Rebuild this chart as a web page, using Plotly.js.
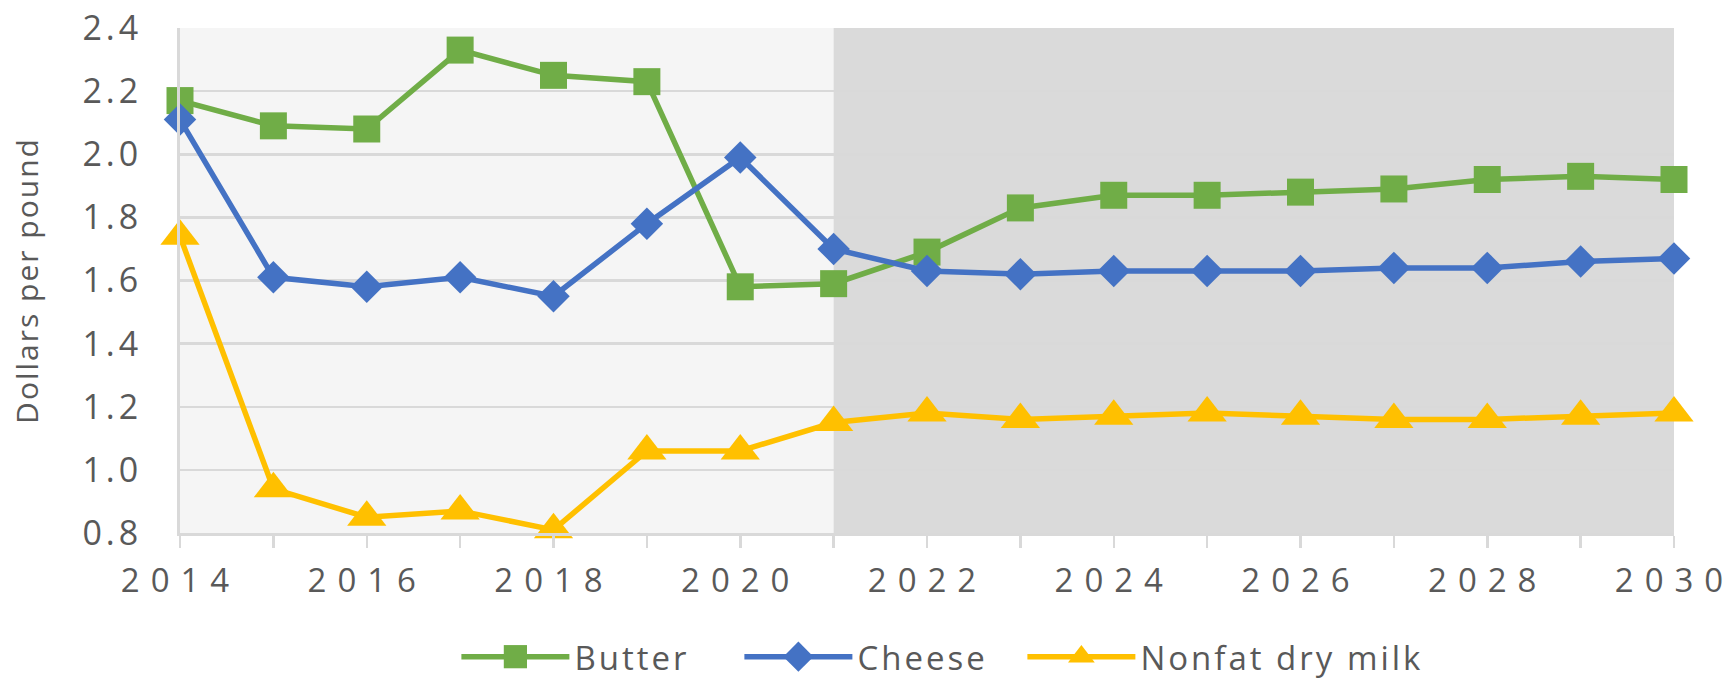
<!DOCTYPE html>
<html>
<head>
<meta charset="utf-8">
<script src="https://cdn.plot.ly/plotly-3.0.1.min.js"></script>
<style>
html,body{margin:0;padding:0;background:#fff;}
#chart{width:1727px;height:681px;}
svg text{letter-spacing:2px;}
.xtick text{letter-spacing:0px !important;}
.ytick text{letter-spacing:4px !important;}
.legend text{letter-spacing:3px !important;}
</style>
</head>
<body>
<div id="chart"></div>
<script>
var years = [2014,2015,2016,2017,2018,2019,2020,2021,2022,2023,2024,2025,2026,2027,2028,2029,2030];
var butter = [2.17,2.09,2.08,2.33,2.25,2.23,1.58,1.59,1.69,1.83,1.87,1.87,1.88,1.89,1.92,1.93,1.92];
var cheese = [2.11,1.61,1.58,1.61,1.55,1.78,1.99,1.70,1.63,1.62,1.63,1.63,1.63,1.64,1.64,1.66,1.67];
var nonfat = [1.74,0.94,0.85,0.87,0.81,1.06,1.06,1.15,1.18,1.16,1.17,1.18,1.17,1.16,1.16,1.17,1.18];
var seriesNames = ['Butter','Cheese','Nonfat dry milk'];
var yTicks = [0.8,1.0,1.2,1.4,1.6,1.8,2.0,2.2,2.4];
var xTicks = [2014,2016,2018,2020,2022,2024,2026,2028,2030];
var projectionStart = 2021;

var FONT = 'Open Sans';
var TXT = '#595959';
var FS = 33;

// spaced-out year labels, as in the original
var xTickText = xTicks.map(function(v){ return String(v).split('').join('\u2004'); });

var traces = [
  {x: years, y: butter, name: seriesNames[0], type: 'scatter', mode: 'lines+markers', cliponaxis: false,
   line: {color: '#70AD47', width: 5.5}, marker: {symbol: 'square', size: 27, color: '#70AD47'}},
  {x: years, y: cheese, name: seriesNames[1], type: 'scatter', mode: 'lines+markers', cliponaxis: false,
   line: {color: '#4472C4', width: 5.5}, marker: {symbol: 'diamond', size: 25, color: '#4472C4'}},
  {x: years, y: nonfat, name: seriesNames[2], type: 'scatter', mode: 'lines+markers', cliponaxis: false,
   line: {color: '#FFC000', width: 5.5}, marker: {symbol: 'triangle-up', size: 34, color: '#FFC000'}}
];

var layout = {
  width: 1727, height: 681,
  margin: {l: 179.5, r: 53, t: 28, b: 148, autoexpand: false},
  paper_bgcolor: '#ffffff',
  plot_bgcolor: '#ffffff',
  font: {family: FONT, color: TXT, size: FS},
  showlegend: true,
  legend: {orientation: 'h', x: 0.185, xanchor: 'left', y: -0.245, yanchor: 'middle',
           font: {family: FONT, size: FS, color: TXT}, itemwidth: 108,
           entrywidth: 160, entrywidthmode: 'pixels', traceorder: 'normal'},
  xaxis: {
    range: [years[0], years[years.length-1]],
    tickvals: xTicks, ticktext: xTickText,
    ticks: 'outside', ticklen: 12, tickwidth: 2.5, tickcolor: '#d9d9d9',
    minor: {dtick: 1, tick0: 2014, ticks: 'outside', ticklen: 12, tickwidth: 2.5, tickcolor: '#d9d9d9', showgrid: false},
    showgrid: false, zeroline: false,
    showline: true, linecolor: '#d9d9d9', linewidth: 3,
    tickfont: {family: FONT, size: FS, color: TXT},
    ticklabelstandoff: 4, ticklabelshift: -5
  },
  yaxis: {
    range: [yTicks[0], yTicks[yTicks.length-1]],
    tickvals: yTicks, ticktext: yTicks.map(function(v){return v.toFixed(1);}),
    showgrid: true, gridcolor: '#d9d9d9', gridwidth: 2.5,
    zeroline: false, showline: true, linecolor: '#d9d9d9', linewidth: 3,
    ticks: '', tickfont: {family: FONT, size: 34, color: TXT},
    ticklabelstandoff: 28,
    title: {text: 'Dollars per pound', font: {family: FONT, size: 30, color: TXT}, standoff: 35}
  },
  shapes: [
    {type: 'rect', xref: 'x', yref: 'paper', x0: years[0], x1: projectionStart, y0: 0, y1: 1,
     fillcolor: '#f5f5f5', line: {width: 0}, layer: 'below'},
    {type: 'rect', xref: 'x', yref: 'paper', x0: projectionStart, x1: years[years.length-1], y0: 0, y1: 1,
     fillcolor: 'rgba(0,0,0,0.145)', line: {width: 0}, layer: 'between'}
  ]
};

Plotly.newPlot('chart', traces, layout, {displayModeBar: false, staticPlot: true}).then(function(gd){
  // enlarge legend marker glyphs (Plotly caps legend marker size)
  gd.querySelectorAll('.legend .legendpoints path.scatterpts').forEach(function(p){
    var t = p.getAttribute('transform') || '';
    p.setAttribute('transform', t + ' scale(1.45)');
  });
  // let the last legend label show in full
  gd.querySelectorAll('.legend .scrollbox').forEach(function(g){ g.removeAttribute('clip-path'); });
});
</script>
</body>
</html>
